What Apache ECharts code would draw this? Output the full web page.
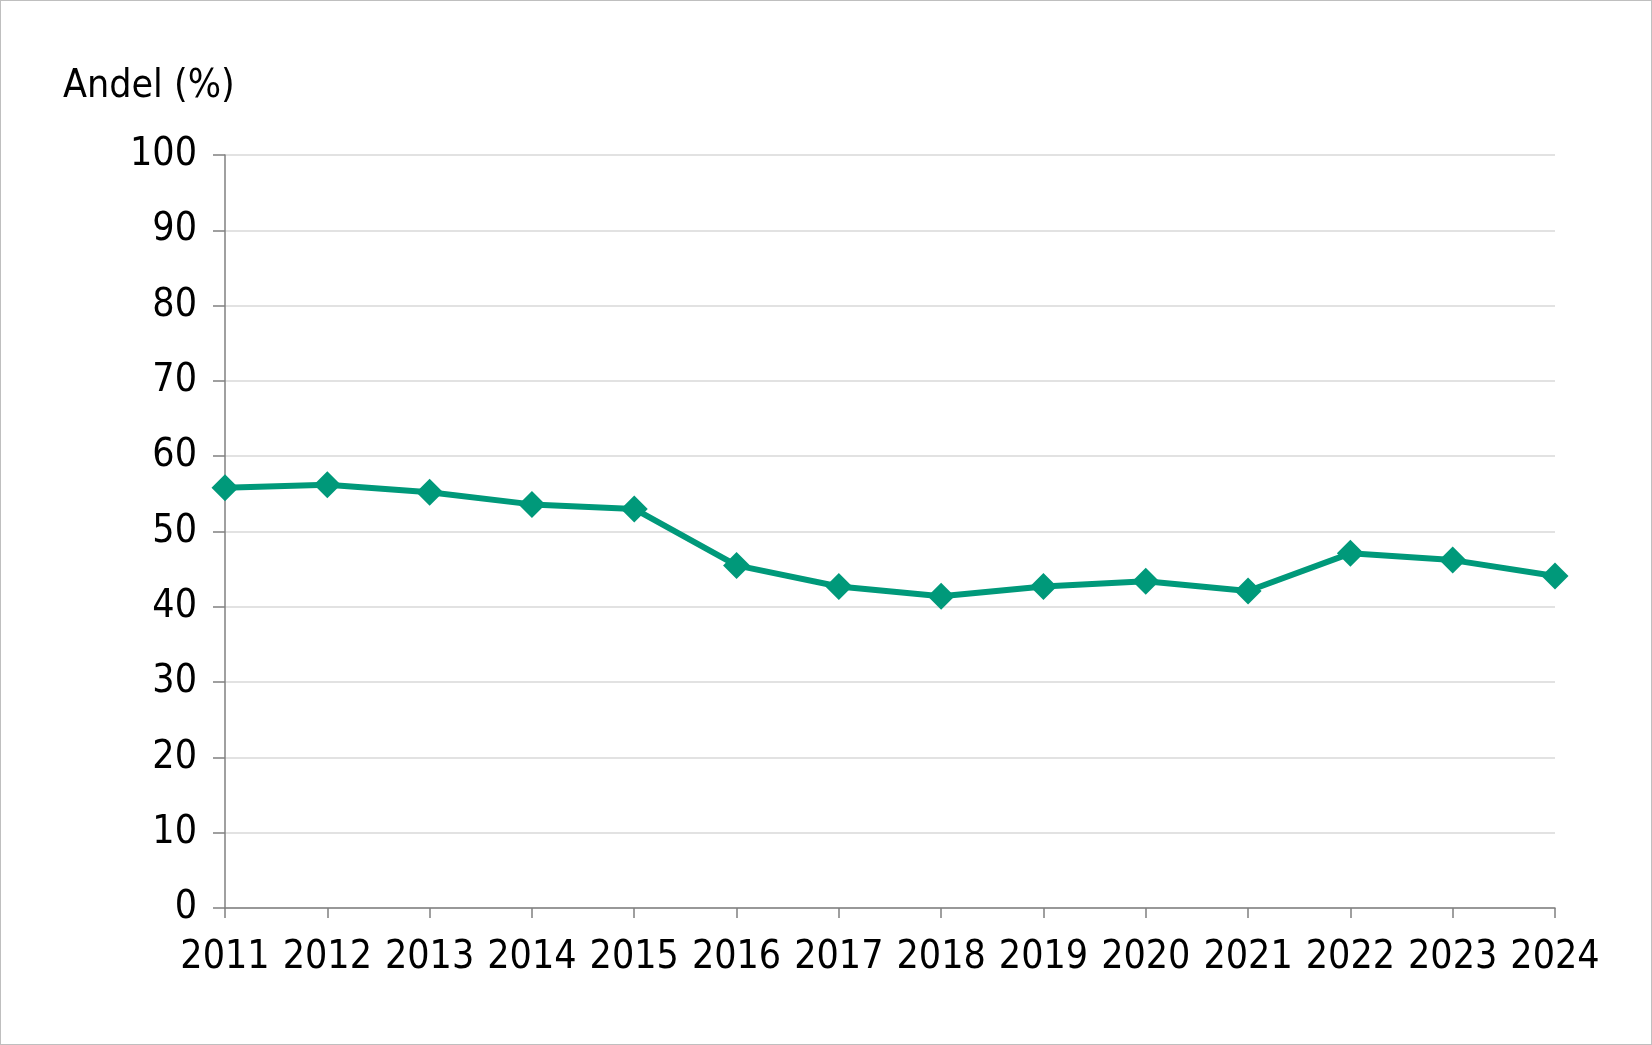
<!DOCTYPE html>
<html><head><meta charset="utf-8">
<script src="https://cdn.jsdelivr.net/npm/echarts@6/dist/echarts.min.js"></script>
<style>html,body{margin:0;padding:0;background:#fff}#c{width:1650px;height:1043px;border:1px solid #bfbfbf}</style>
</head><body><div id="c"></div>
<script>
const years=['2011','2012','2013','2014','2015','2016','2017','2018','2019','2020','2021','2022','2023','2024'];
const andel=[55.8,56.2,55.2,53.6,53.0,45.5,42.7,41.4,42.7,43.4,42.1,47.1,46.2,44.1];
const yTitle='Andel (%)';
const chart=echarts.init(document.getElementById('c'));
const font='DejaVu Sans Condensed';
chart.setOption({
  animation:false,
  grid:{left:224,right:96,top:154,bottom:136},
  graphic:[{type:'text',left:62,top:66,style:{text:yTitle,font:'39px "DejaVu Sans Condensed"',fill:'#000'}}],
  xAxis:{type:'category',data:years,boundaryGap:false,
    axisLine:{lineStyle:{color:'#808080',width:1.5}},
    axisTick:{show:true,length:10,lineStyle:{color:'#808080',width:1.5}},
    axisLabel:{color:'#000',fontSize:39,fontFamily:font,margin:30,interval:0}},
  yAxis:{type:'value',min:0,max:100,interval:10,
    axisLine:{show:true,lineStyle:{color:'#808080',width:1.5}},
    axisTick:{show:true,length:12,lineStyle:{color:'#808080',width:1.5}},
    splitLine:{lineStyle:{color:'#d9d9d9',width:1.5}},
    axisLabel:{color:'#000',fontSize:39,fontFamily:font,margin:28}},
  series:[{type:'line',data:andel,symbol:'diamond',symbolSize:27,
    lineStyle:{color:'#00997a',width:6},itemStyle:{color:'#00997a'}}]
});
</script></body></html>
